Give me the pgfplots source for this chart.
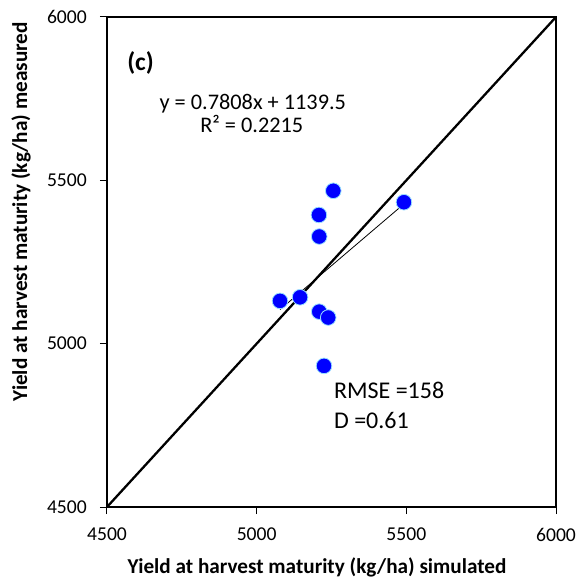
\documentclass[border=0pt]{standalone}
\usepackage{fontspec}
\setmainfont{Carlito}
\usepackage{pgfplots}
\pgfplotsset{compat=1.18}
\begin{document}
\fontsize{20}{24}\selectfont
\begin{tikzpicture}
\useasboundingbox (-107pt,-75pt) rectangle (474pt,507pt);
\begin{axis}[
  at={(0,0)}, anchor=south west,
  scale only axis,
  width=449pt, height=490pt,
  xmin=4500, xmax=6000, ymin=4500, ymax=6000,
  xtick={4500,5000,5500,6000}, ytick={4500,5000,5500,6000},
  tick align=outside, xtick pos=left, ytick pos=left,
  major tick length=7pt,
  axis line style={line width=1.6pt},
  every tick/.style={black, line width=1pt},
  /pgf/number format/assume math mode=true,
  /pgf/number format/set thousands separator={},
  tick label style={font=\fontsize{19.6}{24}\selectfont},
  yticklabel style={inner sep=0pt, anchor=east, xshift=-13pt},
  xticklabel style={inner sep=0pt, anchor=north, yshift=-14pt},
  xlabel={\textbf{Yield at harvest maturity (kg/ha) simulated}},
  ylabel={\textbf{Yield at harvest maturity (kg/ha) measured}},
  label style={font=\fontsize{21.2}{24}\selectfont},
  xlabel style={at={(axis description cs:0.4677,-0.1347)}, anchor=base, inner sep=0pt},
  ylabel style={at={(axis description cs:-0.178,0.602)}, anchor=base, inner sep=0pt},
  clip=false,
]
\addplot[black, line width=2.3pt] coordinates {(4500,4500) (6000,6000)};
\addplot[black, line width=0.8pt] coordinates {(5078,5104.4) (5492,5427.7)};
\addplot[only marks, mark=*, mark size=7.8pt, mark options={fill=blue, draw=blue!30!cyan!40, line width=0.8pt}] coordinates {
(5256,5468) (5492,5433) (5208,5394) (5209,5328) (5078,5131) (5145,5142) (5209,5098) (5239,5080) (5225,4932)
};
\node[anchor=base west, inner sep=0pt, font=\bfseries\fontsize{25.5}{30}\selectfont] at (axis cs:4567,5835) {(c)};
\node[anchor=base west, inner sep=0pt, font=\fontsize{22.3}{26}\selectfont] at (axis cs:4675,5718) {y = 0.7808x + 1139.5};
\node[anchor=base west, inner sep=0pt, font=\fontsize{22.3}{26}\selectfont] at (axis cs:4811,5646) {R² = 0.2215};
\node[anchor=base west, inner sep=0pt, font=\fontsize{24}{28}\selectfont] at (axis cs:5258,4831) {RMSE =158};
\node[anchor=base west, inner sep=0pt, font=\fontsize{24}{28}\selectfont] at (axis cs:5258,4739) {D =0.61};
\end{axis}
\end{tikzpicture}
\end{document}
